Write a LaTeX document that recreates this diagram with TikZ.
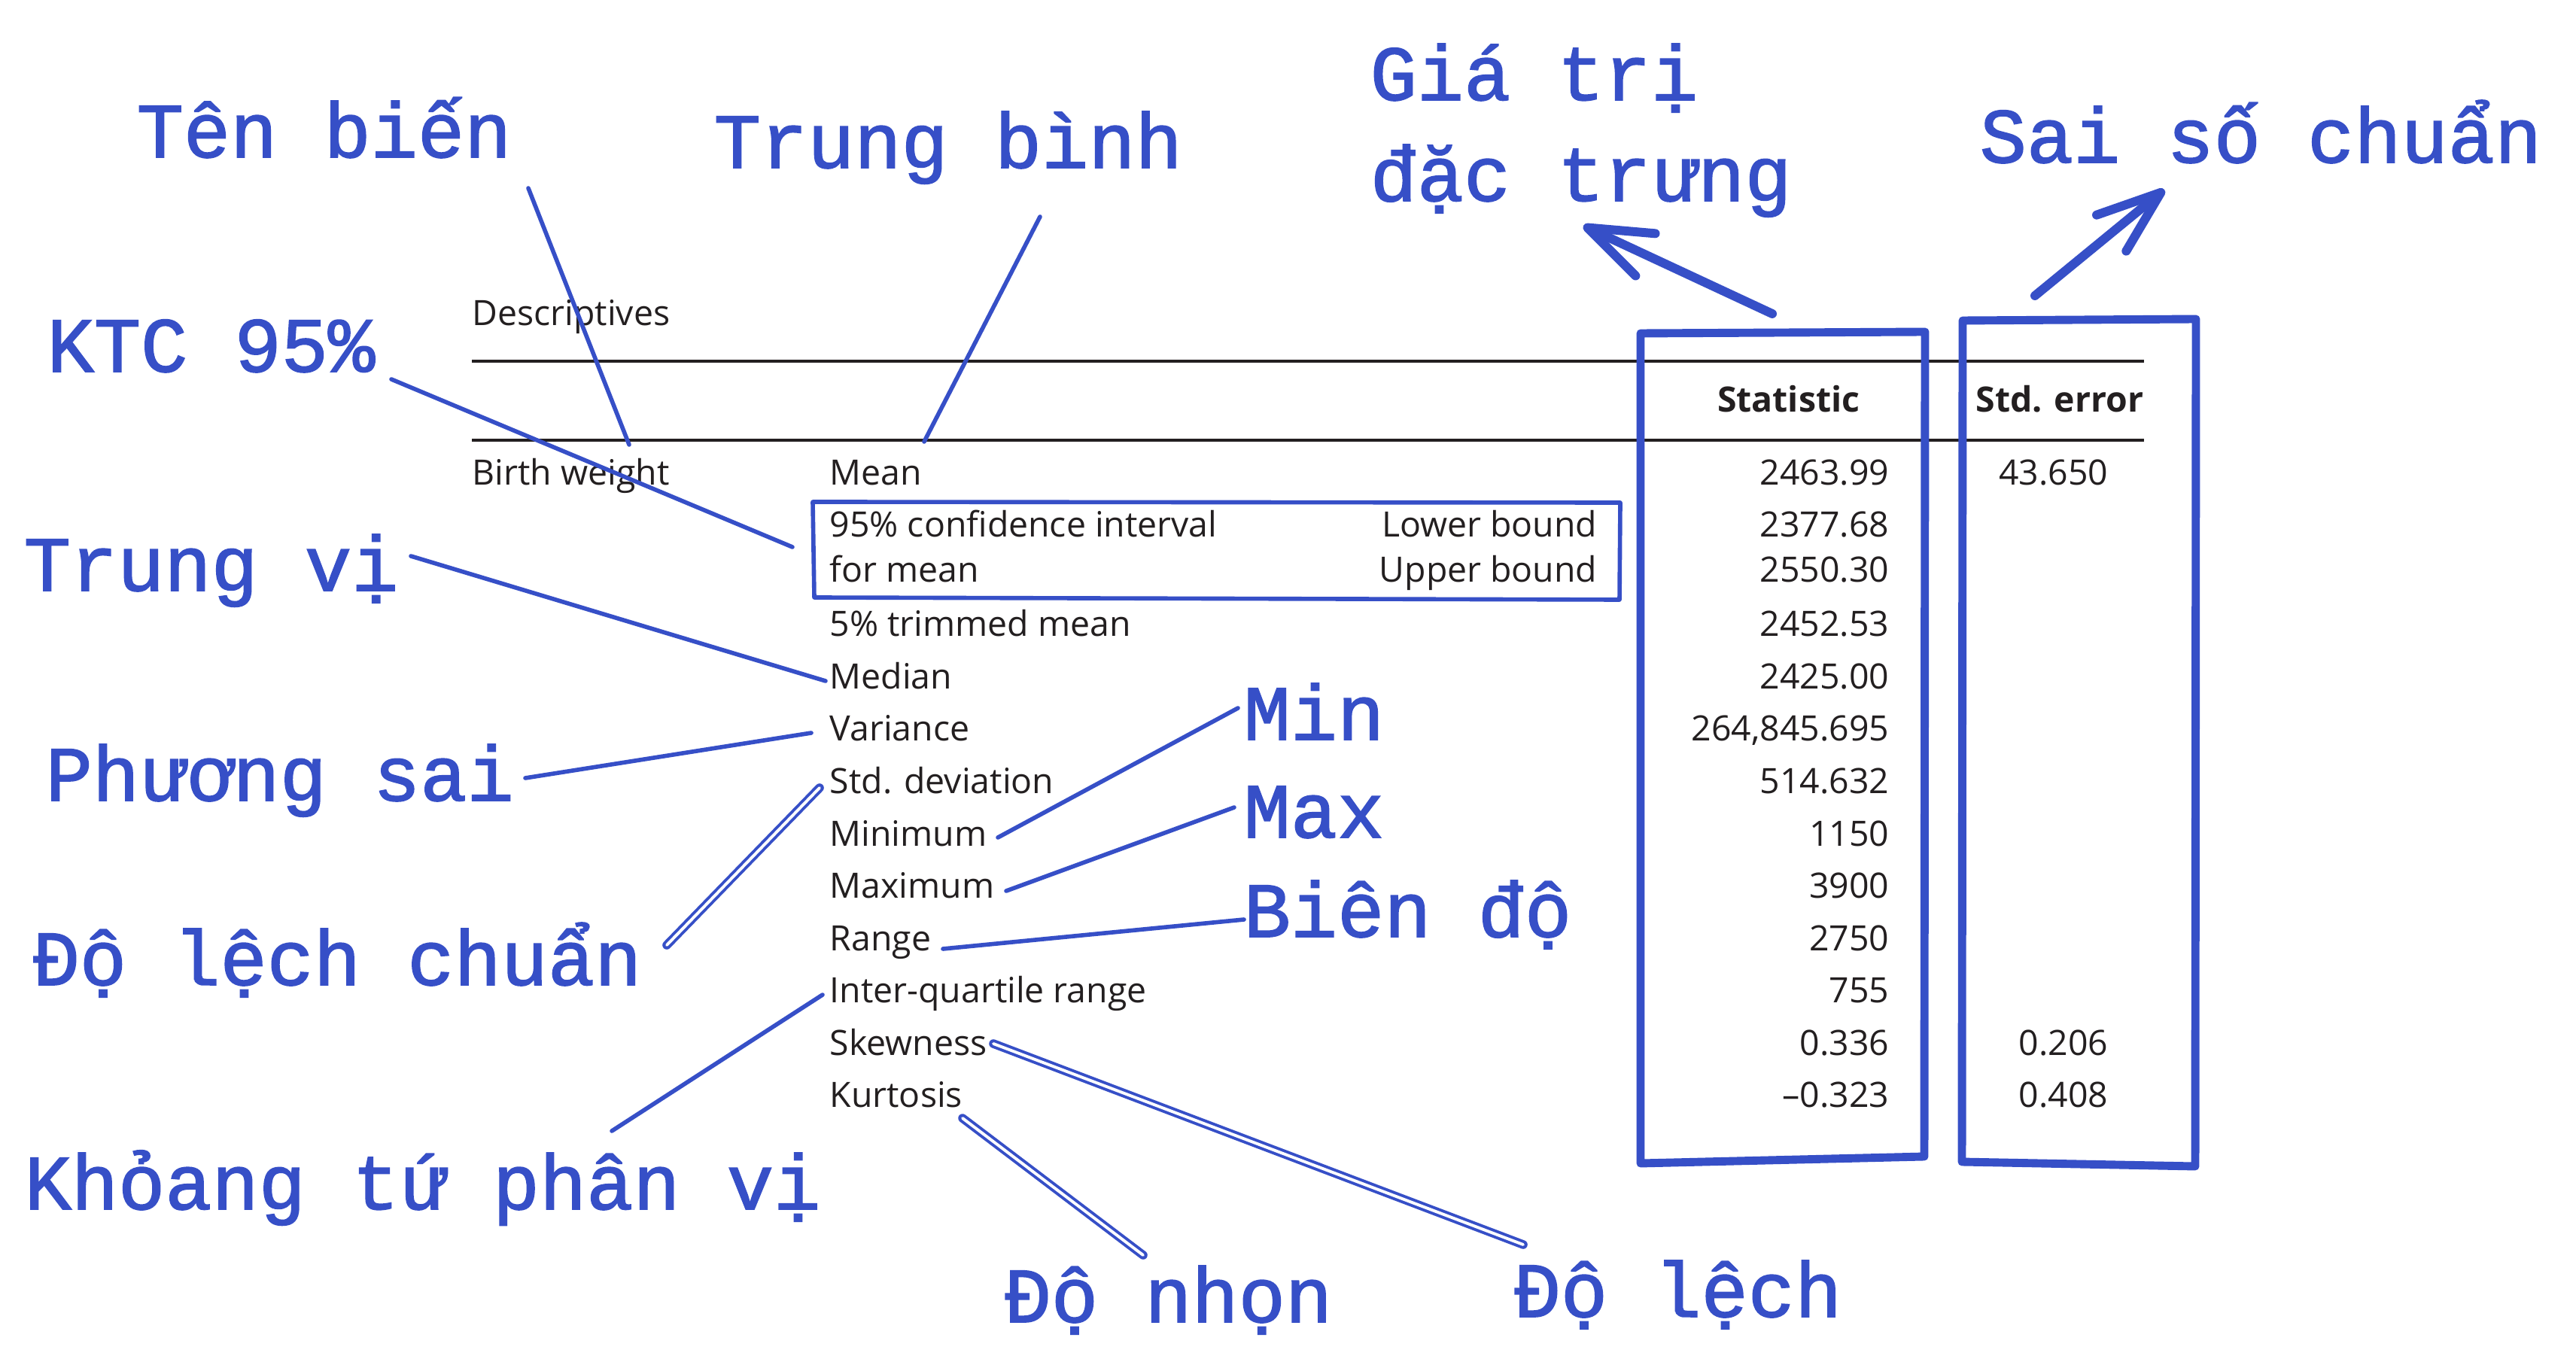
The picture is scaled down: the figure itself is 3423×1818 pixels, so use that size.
\documentclass[tikz,border=0pt]{standalone}
\usepackage{fontspec}
\setmainfont{Open Sans}
\newfontfamily\annofont[FakeBold=1.6]{Liberation Mono}
\usetikzlibrary{arrows.meta,positioning}
\definecolor{blu}{HTML}{364FC7}
\definecolor{ink}{HTML}{231F20}

\begin{document}
\begin{tikzpicture}[x=0.1mm, y=-0.1mm,
    lbl/.style = {font=\annofont\fontsize{29.5}{36}\selectfont, text=blu, anchor=base west, inner sep=0pt},
    cell/.style = {font=\fontsize{13.2}{15}\selectfont, text=ink, anchor=base west, inner sep=0pt},
    num/.style = {cell, anchor=base east},
    head/.style = {cell, font=\bfseries\fontsize{13.2}{15}\selectfont},
    rule/.style = {draw=ink, line width=1pt},
    pen/.style = {draw=blu, line width=1.6pt, line cap=round, line join=round},
    pen2/.style = {pen, line width=1.1pt, double=white, double distance=1.1pt},
    box/.style = {pen, line width=3.1pt},
    pointer/.style = {draw=blu, line width=3.4pt, line cap=round, -{Straight Barb[length=8.5mm, width=6.2mm, round]}}]

    \fill[white] (0,0) rectangle (3423,1818);
    \useasboundingbox (0,0) rectangle (3423,1818);

    % table
    \node[cell] (d) at (627,433) {Descriptives};
    \draw[rule] (627,480) -- (2849,480);
    \draw[rule] (627,585) -- (2849,585);
    \node[head, anchor=base east] (h1) at (2472,548) {Statistic};
    \node[head, anchor=base east] (h2) at (2849,548) {Std. error};

    \node[cell] (bw) at (627,645) {Birth weight};
    \node[cell] (r1) at (1102,645) {Mean};
    \node[num] (s1) at (2511,645) {2463.99};
    \node[num] (e1) at (2802,645) {43.650};
    \node[cell] (r2) at (1102,714) {95\% confidence interval};
    \node[num] (lb) at (2123,714) {Lower bound};
    \node[num] (s2) at (2511,714) {2377.68};
    \node[cell] (r3) at (1102,774) {for mean};
    \node[num] (ub) at (2123,774) {Upper bound};
    \node[num] (s3) at (2511,774) {2550.30};
    \node[cell] (r4) at (1102,846) {5\% trimmed mean};
    \node[num] (s4) at (2511,846) {2452.53};
    \node[cell] (r5) at (1102,915.5) {Median};
    \node[num] (s5) at (2511,915.5) {2425.00};
    \node[cell] (r6) at (1102,985) {Variance};
    \node[num] (s6) at (2511,985) {264,845.695};
    \node[cell] (r7) at (1102,1054.5) {Std. deviation};
    \node[num] (s7) at (2511,1054.5) {514.632};
    \node[cell] (r8) at (1102,1124) {Minimum};
    \node[num] (s8) at (2511,1124) {1150};
    \node[cell] (r9) at (1102,1193.5) {Maximum};
    \node[num] (s9) at (2511,1193.5) {3900};
    \node[cell] (r10) at (1102,1263) {Range};
    \node[num] (s10) at (2511,1263) {2750};
    \node[cell] (r11) at (1102,1332.5) {Inter-quartile range};
    \node[num] (s11) at (2511,1332.5) {755};
    \node[cell] (r12) at (1102,1402) {Skewness};
    \node[num] (s12) at (2511,1402) {0.336};
    \node[num] (e12) at (2802,1402) {0.206};
    \node[cell] (r13) at (1102,1471.5) {Kurtosis};
    \node[num] (s13) at (2511,1471.5) {\textendash0.323};
    \node[num] (e13) at (2802,1471.5) {0.408};

    % boxes
    \draw[pen] (1080,667) -- (2153,668) -- (2152,797) -- (1082,794) -- cycle;
    \draw[box] (2180,443) -- (2558,441) -- (2557,1537) -- (2180,1546) -- cycle;
    \draw[box] (2608,426) -- (2918,424) -- (2917,1550) -- (2607,1544) -- cycle;

    % labels
    \node[lbl] (1) at (181,209) {Tên biến};
    \node[lbl] (2) at (948,223) {Trung bình};
    \node[lbl] (3) at (62,494) {KTC 95\%};
    \node[lbl] (4) at (31,785) {Trung vị};
    \node[lbl] (5) at (1820,133) {Giá trị};
    \node[lbl] (6) at ([yshift=-13.4mm]5.base west) {đặc trưng};
    \node[lbl] (7) at (2630,216) {Sai số chuẩn};
    \node[lbl] (8) at (60,1064) {Phương sai};
    \node[lbl] (9) at (43,1309) {Độ lệch chuẩn};
    \node[lbl] (10) at (32,1607) {Khỏang tứ phân vị};
    \node[lbl] (11) at (1652,983) {Min};
    \node[lbl] (12) at (1652,1113) {Max};
    \node[lbl] (13) at (1652,1245) {Biên độ};
    \node[lbl] (14) at (1334,1757) {Độ nhọn};
    \node[lbl] (15) at (2011,1750) {Độ lệch};

    % line ends
    \coordinate (1a) at (702,250);   \coordinate (1b) at (836,591);
    \coordinate (2a) at (1382,288);  \coordinate (2b) at (1228,587);
    \coordinate (3a) at (520,504);   \coordinate (3b) at (1053,727);
    \coordinate (4a) at (546,739);   \coordinate (4b) at (1097,905);
    \coordinate (5a) at (2355,417);  \coordinate (5b) at (2104,300);
    \coordinate (7a) at (2704,393);  \coordinate (7b) at (2876,252);
    \coordinate (8a) at (698,1034);  \coordinate (8b) at (1078,974);
    \coordinate (9a) at (886,1256);  \coordinate (9b) at (1089,1047);
    \coordinate (10a) at (813,1503); \coordinate (10b) at (1093,1322);
    \coordinate (11a) at (1645,941); \coordinate (11b) at (1326,1113);
    \coordinate (12a) at (1640,1073); \coordinate (12b) at (1337,1184);
    \coordinate (13a) at (1653,1222); \coordinate (13b) at (1253,1261);
    \coordinate (14a) at (1519,1668); \coordinate (14b) at (1279,1486);
    \coordinate (15a) at (2024,1654); \coordinate (15b) at (1320,1387);

    \draw[pen] (1a) -- (1b);
    \draw[pen] (2a) -- (2b);
    \draw[pen] (3a) -- (3b);
    \draw[pen] (4a) -- (4b);
    \draw[pointer] (5a) -- (5b);
    \draw[pointer] (7a) -- (7b);
    \draw[pen] (8a) -- (8b);
    \draw[pen2] (9a) -- (9b);
    \draw[pen] (10a) -- (10b);
    \draw[pen] (11a) -- (11b);
    \draw[pen] (12a) -- (12b);
    \draw[pen] (13a) -- (13b);
    \draw[pen2] (14a) -- (14b);
    \draw[pen2] (15a) -- (15b);
\end{tikzpicture}
\end{document}
